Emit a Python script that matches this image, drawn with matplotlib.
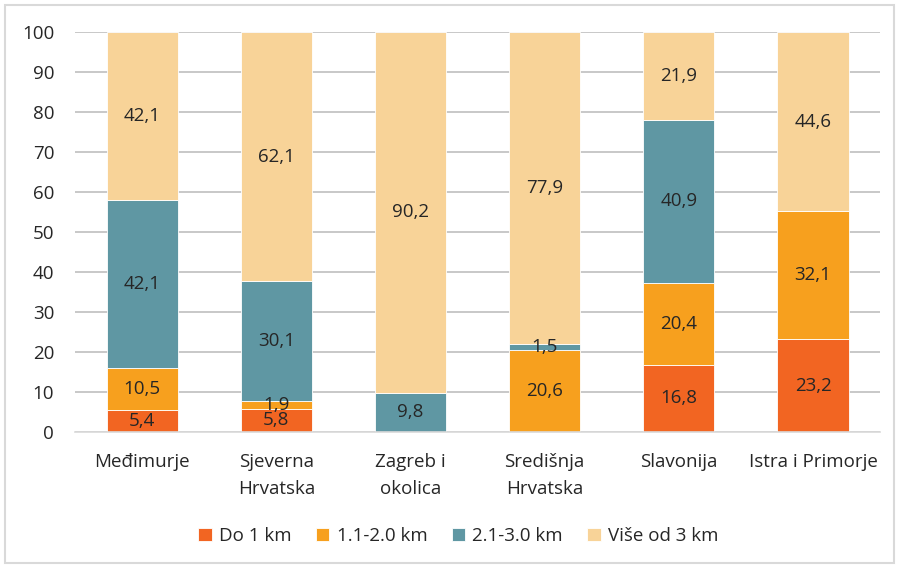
import matplotlib.pyplot as plt
import numpy as np
from matplotlib.patches import Rectangle

plt.rcParams['font.family'] = ['Open Sans', 'DejaVu Sans']

# Podaci
regije = ['Međimurje', 'Sjeverna\nHrvatska', 'Zagreb i\nokolica', 'Središnja\nHrvatska', 'Slavonija', 'Istra i Primorje']
do_1km = [5.4, 5.8, 0, 0, 16.8, 23.2]
km_1_2 = [10.5, 1.9, 0, 20.6, 20.4, 32.1]
km_2_3 = [42.1, 30.1, 9.8, 1.5, 40.9, 0]
vise_3km = [42.1, 62.1, 90.2, 77.9, 21.9, 44.6]

serije = [do_1km, km_1_2, km_2_3, vise_3km]
nazivi = ['Do 1 km', '1.1-2.0 km', '2.1-3.0 km', 'Više od 3 km']
boje = ['#F26522', '#F7A01E', '#5F97A3', '#F8D398']

tekst = '#262626'
fs = 13.5

fig = plt.figure(figsize=(8.99, 5.68), dpi=100)
ax = fig.add_axes([0.0834, 0.2394, 0.8956, 0.7043])

x = np.arange(len(regije))
dno = np.zeros(len(regije))
for vals, naziv, boja in zip(serije, nazivi, boje):
    vals = np.array(vals)
    ax.bar(x, vals, width=0.53, bottom=dno, color=boja, label=naziv,
           edgecolor='white', linewidth=0.6, zorder=3)
    for xi, v, b in zip(x, vals, dno):
        if v > 0:
            ax.text(xi, b + v / 2, f'{v:.1f}'.replace('.', ','), ha='center', va='center',
                    fontsize=fs, color=tekst, zorder=4)
    dno += vals

ax.set_xlim(-0.5, len(regije) - 0.5)
ax.set_ylim(0, 100)
ax.set_yticks(np.arange(0, 101, 10))
ax.set_xticks(x)
ax.set_xticklabels(regije, fontsize=fs, color=tekst, linespacing=1.65)
ax.tick_params(axis='y', labelsize=fs, colors=tekst, length=0, pad=15)
ax.tick_params(axis='x', length=0, pad=15)
ax.yaxis.grid(True, color='#BFBFBF', linewidth=1.2, zorder=0)
for s in ['top', 'right', 'left']:
    ax.spines[s].set_visible(False)
ax.spines['bottom'].set_color('#D9D9D9')
ax.spines['bottom'].set_linewidth(1.2)
ax.spines['bottom'].set_zorder(5)

fig.legend(loc='center', bbox_to_anchor=(0.51, 0.056), ncol=4, frameon=False,
           fontsize=fs, handlelength=0.7, handleheight=0.7, columnspacing=1.3,
           handletextpad=0.4, labelcolor=tekst)

fig.patches.append(Rectangle((0.006, 0.008), 0.988, 0.984, transform=fig.transFigure,
                             fill=False, edgecolor='#D9D9D9', linewidth=1.5))

plt.savefig('out.png', dpi=100)
